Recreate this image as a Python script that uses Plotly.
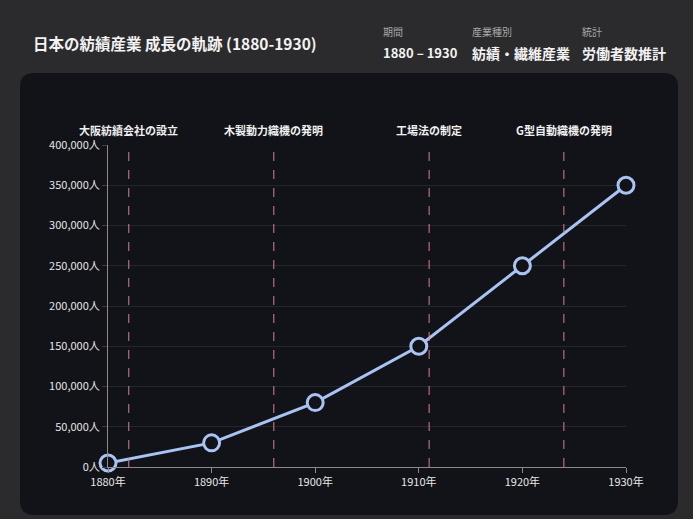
import plotly.graph_objects as go

# ---- data ----
years = [1880, 1890, 1900, 1910, 1920, 1930]
workers = [5000, 30000, 80000, 150000, 250000, 350000]
event_years = [1882, 1896, 1911, 1924]
event_labels = ["大阪紡績会社の設立", "木製動力織機の発明", "工場法の制定", "G型自動織機の発明"]
y_ticks = [0, 50000, 100000, 150000, 200000, 250000, 300000, 350000, 400000]
x_ticks = [1880, 1890, 1900, 1910, 1920, 1930]
meta_labels = ["期間", "産業種別", "統計"]
meta_values = ["1880 – 1930", "紡績・繊維産業", "労働者数推計"]

W, H = 693, 519
L, R, T, B = 108, 626, 145, 467
FONT = "Noto Sans CJK JP"
BG = "#2b2b2d"

def px(x):
    return (x - L) / (R - L)

def py(y):
    return (B - y) / (B - T)

fig = go.Figure()
fig.add_trace(go.Scatter(
    x=years, y=workers, mode="lines+markers",
    line=dict(color="#a9c3f2", width=3),
    marker=dict(size=16, color="#111318", line=dict(color="#a9c3f2", width=3)),
    hoverinfo="skip", showlegend=False, cliponaxis=False,
))

# card background with rounded corners
cx0, cx1, cy0, cy1, r = 20, 678, 73, 515, 14
path = (
    f"M {px(cx0 + r)} {py(cy0)} L {px(cx1 - r)} {py(cy0)} "
    f"Q {px(cx1)} {py(cy0)} {px(cx1)} {py(cy0 + r)} "
    f"L {px(cx1)} {py(cy1 - r)} Q {px(cx1)} {py(cy1)} {px(cx1 - r)} {py(cy1)} "
    f"L {px(cx0 + r)} {py(cy1)} Q {px(cx0)} {py(cy1)} {px(cx0)} {py(cy1 - r)} "
    f"L {px(cx0)} {py(cy0 + r)} Q {px(cx0)} {py(cy0)} {px(cx0 + r)} {py(cy0)} Z"
)
shapes = [dict(type="path", path=path, xref="paper", yref="paper",
               fillcolor="#111318", line=dict(width=0), layer="below")]

annotations = []
for ey, lab in zip(event_years, event_labels):
    shapes.append(dict(type="line", xref="x", yref="paper", x0=ey, x1=ey, y0=0, y1=1,
                       line=dict(color="rgba(222,132,152,0.8)", width=1.2, dash="dash"),
                       layer="above"))
    annotations.append(dict(x=ey, y=py(130), xref="x", yref="paper", text=f"<b>{lab}</b>",
                            showarrow=False, font=dict(family=FONT, size=11, color="#f0f0f0"),
                            xanchor="center", yanchor="middle"))

annotations.append(dict(x=px(31), y=py(43), xref="paper", yref="paper",
                        text="<b>日本の紡績産業 成長の軌跡 (1880-1930)</b>", showarrow=False,
                        font=dict(family=FONT, size=15.5, color="#f2f2f2"),
                        xanchor="left", yanchor="middle"))
meta_x = [381, 470, 580]
meta_sizes = [13, 14, 14]
for mx, ml, mv, ms in zip(meta_x, meta_labels, meta_values, meta_sizes):
    annotations.append(dict(x=px(mx), y=py(31), xref="paper", yref="paper", text=ml,
                            showarrow=False, font=dict(family=FONT, size=10, color="#a8a8a8"),
                            xanchor="left", yanchor="middle"))
    annotations.append(dict(x=px(mx), y=py(53), xref="paper", yref="paper", text=f"<b>{mv}</b>",
                            showarrow=False, font=dict(family=FONT, size=ms, color="#f2f2f2"),
                            xanchor="left", yanchor="middle"))

fig.update_layout(
    width=W, height=H,
    margin=dict(l=L, r=W - R, t=T, b=H - B, pad=0),
    paper_bgcolor=BG, plot_bgcolor="rgba(0,0,0,0)",
    shapes=shapes, annotations=annotations,
    font=dict(family=FONT, color="#e6e6e6", size=11),
    xaxis=dict(range=[1880, 1930], tickvals=x_ticks, ticktext=[f"{v}年" for v in x_ticks],
               showgrid=False, zeroline=False, showline=True, linecolor="#8a8a8a", linewidth=1,
               ticks="outside", ticklen=5, tickcolor="#8a8a8a",
               tickfont=dict(family=FONT, size=11, color="#e6e6e6")),
    yaxis=dict(range=[0, 400000], tickvals=y_ticks,
               ticktext=[f"{v:,}人" for v in y_ticks],
               showgrid=True, gridcolor="#24262b", gridwidth=1, zeroline=False,
               showline=True, linecolor="#8a8a8a", linewidth=1,
               ticks="outside", ticklen=5, tickcolor="#3a3c40",
               tickfont=dict(family=FONT, size=11, color="#e6e6e6")),
)

fig.write_html("out.html", config={"displayModeBar": False},
               post_script=f"document.body.style.margin='0';document.body.style.background='{BG}';document.body.style.overflow='hidden';")
